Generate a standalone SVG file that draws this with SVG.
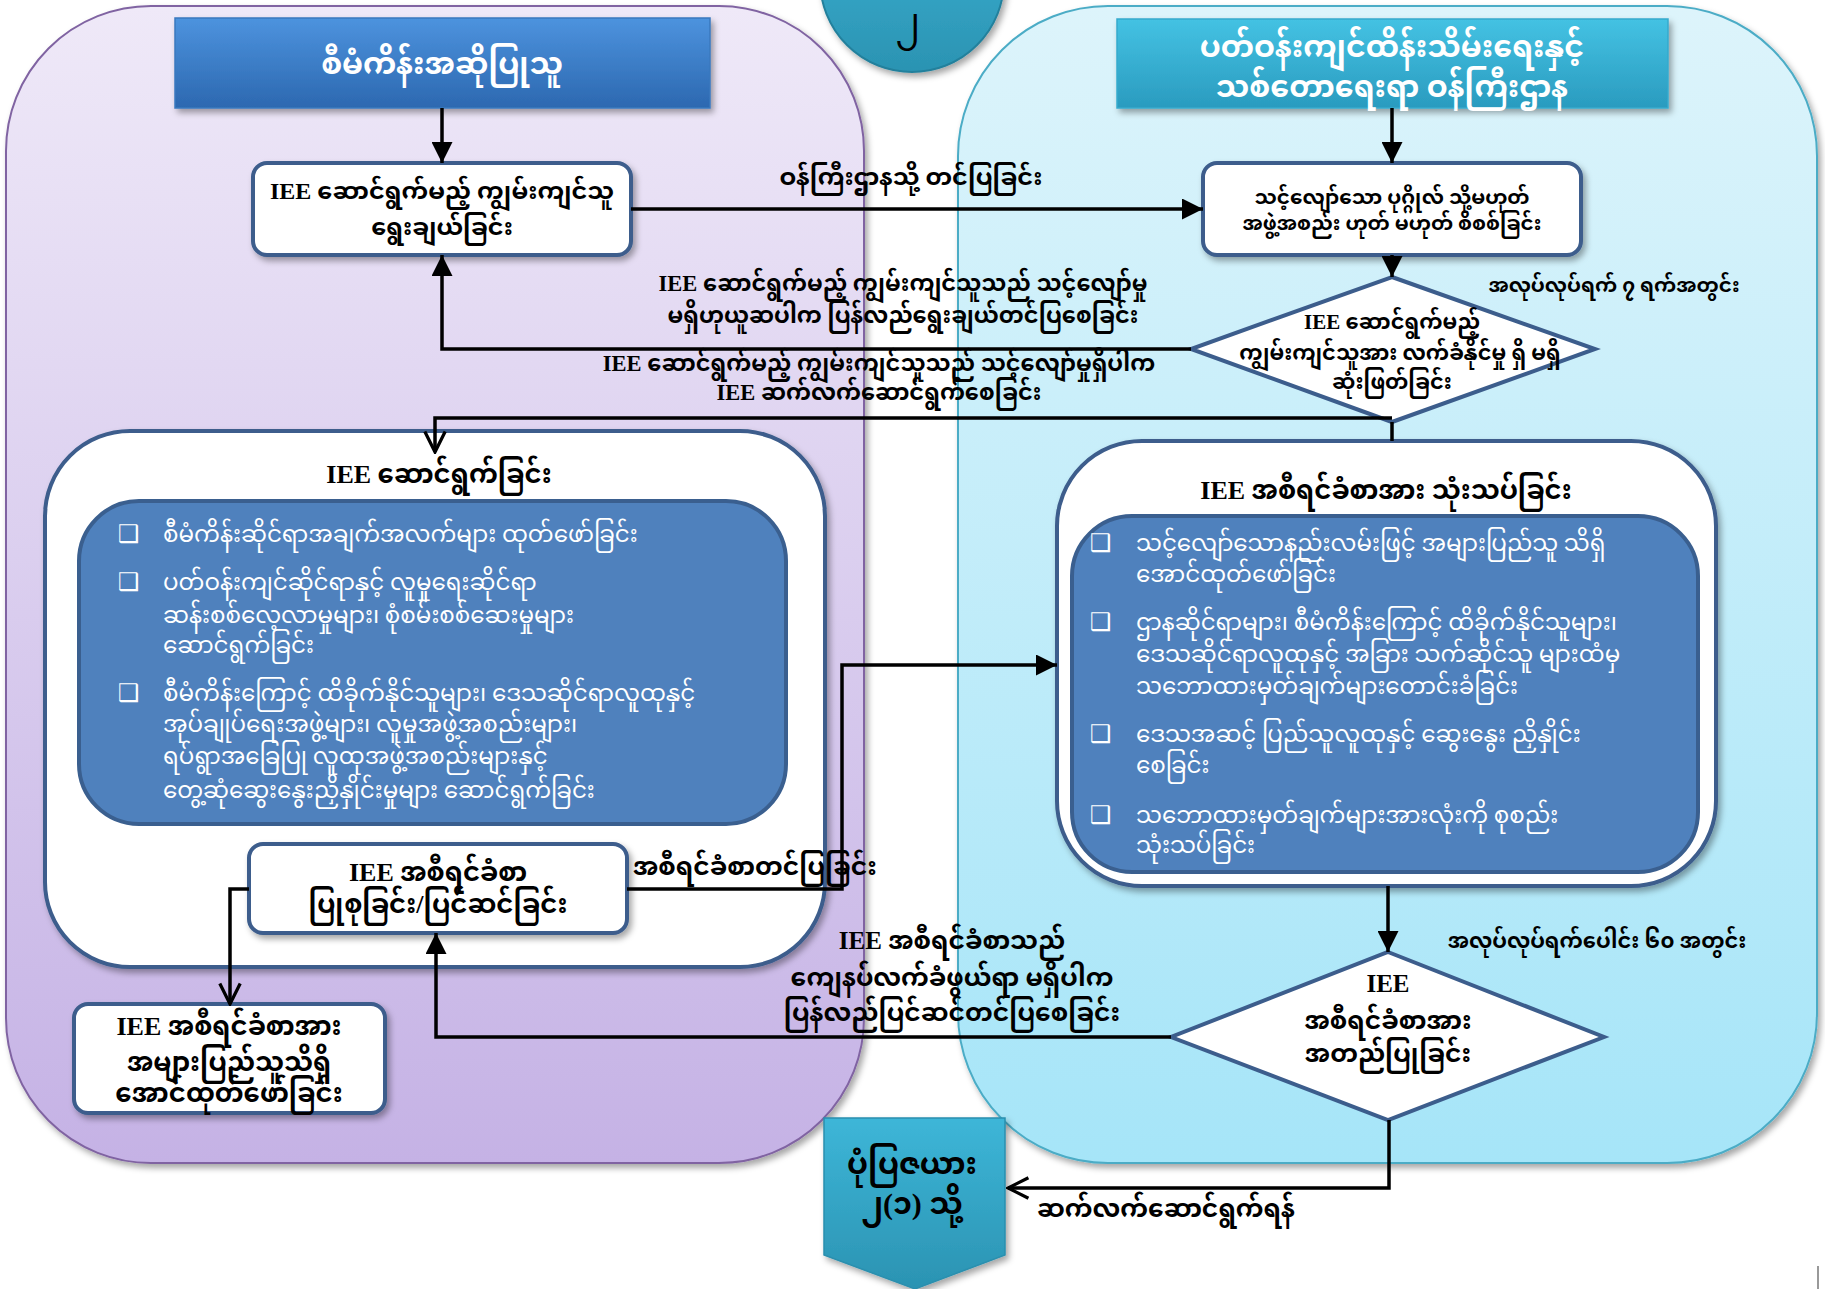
<svg xmlns="http://www.w3.org/2000/svg" width="1825" height="1289" viewBox="0 0 1825 1289">
<defs>
<linearGradient id="gPurple" x1="0" y1="0" x2="0" y2="1"><stop offset="0" stop-color="#efe9f8"/><stop offset="1" stop-color="#c5b2e5"/></linearGradient>
<linearGradient id="gCyan" x1="0" y1="0" x2="0" y2="1"><stop offset="0" stop-color="#ddf4fb"/><stop offset="1" stop-color="#a6e5f8"/></linearGradient>
<linearGradient id="gHead1" x1="0" y1="0" x2="0" y2="1"><stop offset="0" stop-color="#4d93de"/><stop offset="1" stop-color="#2c68b0"/></linearGradient>
<linearGradient id="gHead2" x1="0" y1="0" x2="0" y2="1"><stop offset="0" stop-color="#44c2e3"/><stop offset="1" stop-color="#2a9bbf"/></linearGradient>
<linearGradient id="gTeal" x1="0" y1="0" x2="0" y2="1"><stop offset="0" stop-color="#3db6d8"/><stop offset="1" stop-color="#2b93b2"/></linearGradient>
<filter id="sh" x="-10%" y="-10%" width="130%" height="140%"><feDropShadow dx="3" dy="4" stdDeviation="3" flood-color="#000" flood-opacity="0.35"/></filter>
<marker id="af" viewBox="0 0 10 10" refX="10" refY="5" markerWidth="6" markerHeight="6" markerUnits="strokeWidth" orient="auto"><path d="M0,0 L10,5 L0,10 z" fill="#000"/></marker>
<marker id="ao" viewBox="0 0 12 12" refX="11" refY="6" markerWidth="7" markerHeight="7" markerUnits="strokeWidth" orient="auto"><path d="M1,1 L11,6 L1,11" fill="none" stroke="#000" stroke-width="1.6"/></marker>
<style>
text{font-family:"Liberation Serif","Noto Sans Myanmar","Padauk","Myanmar Text",serif;fill:#000;text-anchor:middle;dominant-baseline:central}
.w{fill:#fff}
.l{text-anchor:start}
.box{fill:#fff;stroke:#3c5d8c;stroke-width:4}
.inner{fill:#4f81bd;stroke:#3a5f8f;stroke-width:4}
.cn{fill:none;stroke:#000;stroke-width:3.5}
.chk{font-family:"DejaVu Sans",sans-serif;fill:#fff;font-size:24px;text-anchor:start}
.b{font-size:23px;fill:#fff;text-anchor:start}
</style>
</defs>

<!-- swimlanes -->
<g id="lane-left"><rect x="6" y="6" width="858" height="1157" rx="145" fill="url(#gPurple)" stroke="#8064a2" stroke-width="2" filter="url(#sh)"/></g>
<g id="lane-right"><rect x="958" y="6" width="859" height="1157" rx="150" fill="url(#gCyan)" stroke="#4bacc6" stroke-width="2" filter="url(#sh)"/></g>

<g id="page-circle"><circle cx="912" cy="-20" r="92" fill="url(#gTeal)" stroke="#23809c" stroke-width="2" filter="url(#sh)"/><text x="908" y="22" font-size="36">၂</text></g>

<g id="head-left"><rect x="175" y="18" width="535" height="90" fill="url(#gHead1)" stroke="#3a78be" stroke-width="1.5" filter="url(#sh)"/><text class="w" x="442" y="63" font-size="30" font-weight="bold">စီမံကိန်းအဆိုပြုသူ</text></g>
<g id="head-right"><rect x="1117" y="19" width="551" height="89" fill="url(#gHead2)" stroke="#34aacd" stroke-width="1.5" filter="url(#sh)"/><text class="w" x="1392" y="46" font-size="30" font-weight="bold">ပတ်ဝန်းကျင်ထိန်းသိမ်းရေးနှင့်</text><text class="w" x="1392" y="86" font-size="30" font-weight="bold">သစ်တောရေးရာ ဝန်ကြီးဌာန</text></g>

<g id="box-select"><rect class="box" x="253" y="163" width="378" height="92" rx="14" filter="url(#sh)"/><text x="442" y="191" font-size="24" font-weight="bold">IEE ဆောင်ရွက်မည့် ကျွမ်းကျင်သူ</text><text x="442" y="227" font-size="24" font-weight="bold">ရွေးချယ်ခြင်း</text></g>

<g id="box-check"><rect class="box" x="1203" y="163" width="378" height="92" rx="14" filter="url(#sh)"/><text x="1392" y="197" font-size="20" font-weight="bold">သင့်လျော်သော ပုဂ္ဂိုလ် သို့မဟုတ်</text><text x="1392" y="223" font-size="20" font-weight="bold">အဖွဲ့အစည်း ဟုတ် မဟုတ် စိစစ်ခြင်း</text></g>

<g id="dia-accept"><polygon points="1392,277 1595,349 1392,422 1191,349" fill="#fff" stroke="#3c5d8c" stroke-width="4"/><text x="1392" y="322" font-size="21" font-weight="bold">IEE ဆောင်ရွက်မည့်</text><text x="1400" y="353" font-size="21" font-weight="bold">ကျွမ်းကျင်သူအား လက်ခံနိုင်မှု ရှိ မရှိ</text><text x="1392" y="382" font-size="21" font-weight="bold">ဆုံးဖြတ်ခြင်း</text></g>

<g id="box-iee-do"><rect class="box" x="45" y="431" width="780" height="536" rx="85" filter="url(#sh)"/><text x="439" y="474" font-size="26" font-weight="bold">IEE ဆောင်ရွက်ခြင်း</text>
<rect class="inner" x="79" y="501" width="707" height="323" rx="60"/>
<text class="chk" x="118" y="534">❑</text><text class="b" x="163" y="534">စီမံကိန်းဆိုင်ရာအချက်အလက်များ ထုတ်ဖော်ခြင်း</text>
<text class="chk" x="118" y="582">❑</text><text class="b" x="163" y="582">ပတ်ဝန်းကျင်ဆိုင်ရာနှင့် လူမှုရေးဆိုင်ရာ</text><text class="b" x="163" y="615">ဆန်းစစ်လေ့လာမှုများ၊ စုံစမ်းစစ်ဆေးမှုများ</text><text class="b" x="163" y="645">ဆောင်ရွက်ခြင်း</text>
<text class="chk" x="118" y="693">❑</text><text class="b" x="163" y="693">စီမံကိန်းကြောင့် ထိခိုက်နိုင်သူများ၊ ဒေသဆိုင်ရာလူထုနှင့်</text><text class="b" x="163" y="724">အုပ်ချုပ်ရေးအဖွဲ့များ၊ လူမှုအဖွဲ့အစည်းများ၊</text><text class="b" x="163" y="756">ရပ်ရွာအခြေပြု လူထုအဖွဲ့အစည်းများနှင့်</text><text class="b" x="163" y="790">တွေ့ဆုံဆွေးနွေးညှိနှိုင်းမှုများ ဆောင်ရွက်ခြင်း</text>
</g>

<g id="box-report"><rect class="box" x="249" y="844" width="378" height="89" rx="14" filter="url(#sh)"/><text x="438" y="872" font-size="26" font-weight="bold">IEE အစီရင်ခံစာ</text><text x="438" y="904" font-size="26" font-weight="bold">ပြုစုခြင်း/ပြင်ဆင်ခြင်း</text></g>

<g id="box-publish"><rect class="box" x="74" y="1004" width="311" height="109" rx="14" filter="url(#sh)"/><text x="229" y="1026" font-size="26" font-weight="bold">IEE အစီရင်ခံစာအား</text><text x="229" y="1062" font-size="26" font-weight="bold">အများပြည်သူသိရှိ</text><text x="229" y="1093" font-size="26" font-weight="bold">အောင်ထုတ်ဖော်ခြင်း</text></g>

<g id="box-review"><rect class="box" x="1057" y="441" width="659" height="445" rx="85" filter="url(#sh)"/><text x="1386" y="490" font-size="26" font-weight="bold">IEE အစီရင်ခံစာအား သုံးသပ်ခြင်း</text>
<rect class="inner" x="1072" y="516" width="626" height="356" rx="60"/>
<text class="chk" x="1090" y="543">❑</text><text class="b" x="1136" y="543">သင့်လျော်သောနည်းလမ်းဖြင့် အများပြည်သူ သိရှိ</text><text class="b" x="1136" y="574">အောင်ထုတ်ဖော်ခြင်း</text>
<text class="chk" x="1090" y="622">❑</text><text class="b" x="1136" y="622">ဌာနဆိုင်ရာများ၊ စီမံကိန်းကြောင့် ထိခိုက်နိုင်သူများ၊</text><text class="b" x="1136" y="654">ဒေသဆိုင်ရာလူထုနှင့် အခြား သက်ဆိုင်သူ များထံမှ</text><text class="b" x="1136" y="686">သဘောထားမှတ်ချက်များတောင်းခံခြင်း</text>
<text class="chk" x="1090" y="734">❑</text><text class="b" x="1136" y="734">ဒေသအဆင့် ပြည်သူလူထုနှင့် ဆွေးနွေး ညှိနှိုင်း</text><text class="b" x="1136" y="765">စေခြင်း</text>
<text class="chk" x="1090" y="815">❑</text><text class="b" x="1136" y="815">သဘောထားမှတ်ချက်များအားလုံးကို စုစည်း</text><text class="b" x="1136" y="845">သုံးသပ်ခြင်း</text>
</g>

<g id="dia-approve"><polygon points="1388,952 1604,1037 1388,1120 1171,1037" fill="#fff" stroke="#3c5d8c" stroke-width="4"/><text x="1388" y="983" font-size="25" font-weight="bold">IEE</text><text x="1388" y="1020" font-size="25" font-weight="bold">အစီရင်ခံစာအား</text><text x="1388" y="1053" font-size="25" font-weight="bold">အတည်ပြုခြင်း</text></g>

<g id="page-next"><polygon points="824,1118 1005,1118 1005,1255 915,1289 824,1255" fill="url(#gTeal)" stroke="#2a8fae" stroke-width="1.5" filter="url(#sh)"/><text x="912" y="1163" font-size="30" font-weight="bold">ပုံပြဇယား</text><text x="912" y="1203" font-size="30" font-weight="bold">၂(၁) သို့</text></g>

<g id="connectors">
<path class="cn" d="M442,108 V163" marker-end="url(#af)"/>
<path class="cn" d="M1392,108 V163" marker-end="url(#af)"/>
<path class="cn" d="M631,209 H1203" marker-end="url(#af)"/>
<path class="cn" d="M1392,255 V277" marker-end="url(#af)"/>
<path class="cn" d="M1191,349 H442 V255" marker-end="url(#af)"/>
<path class="cn" d="M1392,422 V441"/>
<path class="cn" d="M1392,418 H435 V452" marker-end="url(#ao)"/>
<path class="cn" d="M627,889 H842 V665 H1057" marker-end="url(#af)"/>
<path class="cn" d="M249,889 H230 V1004" marker-end="url(#ao)"/>
<path class="cn" d="M1388,886 V952" marker-end="url(#af)"/>
<path class="cn" d="M1171,1037 H436 V933" marker-end="url(#af)"/>
<path class="cn" d="M1389,1120 V1188 H1008" marker-end="url(#ao)"/>
</g>

<g id="labels">
<text x="911" y="177" font-size="24" font-weight="bold">ဝန်ကြီးဌာနသို့ တင်ပြခြင်း</text>
<text x="903" y="283" font-size="22.5" font-weight="bold">IEE ဆောင်ရွက်မည့် ကျွမ်းကျင်သူသည် သင့်လျော်မှု</text>
<text x="903" y="315" font-size="22.5" font-weight="bold">မရှိဟုယူဆပါက ပြန်လည်ရွေးချယ်တင်ပြစေခြင်း</text>
<text x="879" y="363" font-size="22.5" font-weight="bold">IEE ဆောင်ရွက်မည့် ကျွမ်းကျင်သူသည် သင့်လျော်မှုရှိပါက</text>
<text x="879" y="392" font-size="22.5" font-weight="bold">IEE ဆက်လက်ဆောင်ရွက်စေခြင်း</text>
<text x="1614" y="285" font-size="20" font-weight="bold">အလုပ်လုပ်ရက် ၇ ရက်အတွင်း</text>
<text class="l" x="633" y="866" font-size="25" font-weight="bold">အစီရင်ခံစာတင်ပြခြင်း</text>
<text x="952" y="940" font-size="25" font-weight="bold">IEE အစီရင်ခံစာသည်</text>
<text x="952" y="977" font-size="25" font-weight="bold">ကျေနပ်လက်ခံဖွယ်ရာ မရှိပါက</text>
<text x="952" y="1012" font-size="25" font-weight="bold">ပြန်လည်ပြင်ဆင်တင်ပြစေခြင်း</text>
<text x="1597" y="941" font-size="21" font-weight="bold">အလုပ်လုပ်ရက်ပေါင်း ၆၀ အတွင်း</text>
<text class="l" x="1037" y="1208" font-size="25" font-weight="bold">ဆက်လက်ဆောင်ရွက်ရန်</text>
</g>
<line x1="1818" y1="1266" x2="1818" y2="1289" stroke="#999" stroke-width="2"/>
</svg>
